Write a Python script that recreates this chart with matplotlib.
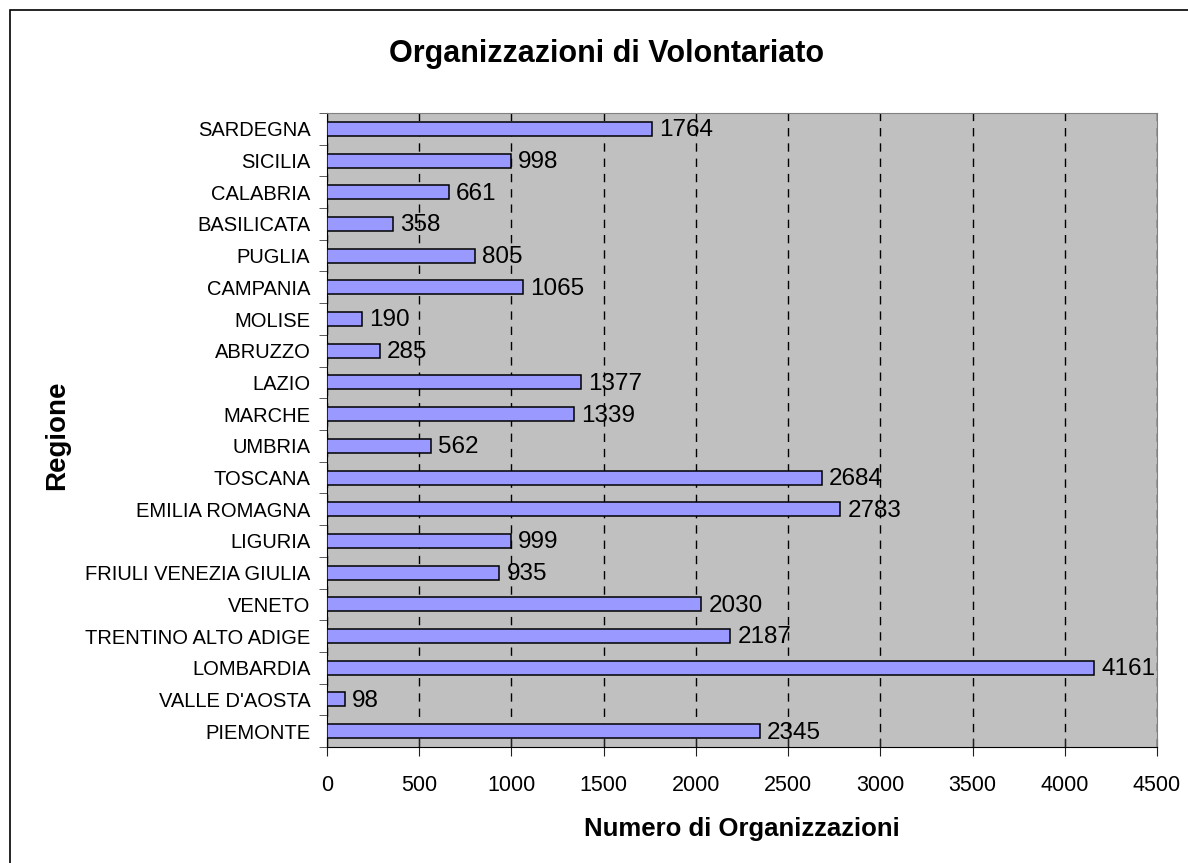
import matplotlib.pyplot as plt
import matplotlib.patches as mpatches

plt.rcParams['font.family'] = ['Liberation Sans', 'DejaVu Sans']

regioni = ['PIEMONTE', "VALLE D'AOSTA", 'LOMBARDIA', 'TRENTINO ALTO ADIGE', 'VENETO',
           'FRIULI VENEZIA GIULIA', 'LIGURIA', 'EMILIA ROMAGNA', 'TOSCANA', 'UMBRIA',
           'MARCHE', 'LAZIO', 'ABRUZZO', 'MOLISE', 'CAMPANIA', 'PUGLIA',
           'BASILICATA', 'CALABRIA', 'SICILIA', 'SARDEGNA']
organizzazioni = [2345, 98, 4161, 2187, 2030, 935, 999, 2783, 2684, 562,
                  1339, 1377, 285, 190, 1065, 805, 358, 661, 998, 1764]
x_ticks = [0, 500, 1000, 1500, 2000, 2500, 3000, 3500, 4000, 4500]

W, H = 1188, 863
fig = plt.figure(figsize=(W / 100, H / 100), dpi=100)
ax = fig.add_axes([327 / W, 1 - 747 / H, (1157 - 327) / W, (747 - 113) / H])

# cornice esterna (esce dal bordo a destra e in basso)
fig.patches.append(mpatches.Rectangle((10 / W, -0.05), 1.05, 1 - 10 / H + 0.05,
                                      transform=fig.transFigure, fill=False,
                                      edgecolor='black', linewidth=1.2))

ax.set_facecolor('#C0C0C0')
n = len(regioni)
pos = list(range(n))
ax.barh(pos, organizzazioni, height=0.44, color='#9999FF', edgecolor='black',
        linewidth=1.1, zorder=3)
for p, v in zip(pos, organizzazioni):
    ax.annotate(str(v), (v, p), xytext=(5, -1), textcoords='offset points',
                va='center', ha='left', fontsize=17.5, zorder=4)

ax.set_xlim(0, 4500)
ax.set_ylim(-0.5, n - 0.5)
ax.set_xticks(x_ticks)
ax.set_yticks(pos)
ax.set_yticklabels(regioni)
ax.set_yticks([i - 0.5 for i in range(n + 1)], minor=True)
ax.tick_params(axis='y', which='major', length=0, labelsize=14.5, pad=12)
ax.tick_params(axis='y', which='minor', length=6, direction='out', color='#404040')
ax.tick_params(axis='x', labelsize=15.5, direction='inout', length=13, pad=14,
               color='#202020')
ax.xaxis.grid(True, linestyle=(0, (6, 5)), color='black', linewidth=1, zorder=0)
ax.set_axisbelow(True)
for s in ax.spines.values():
    s.set_color('#808080')
ax.spines['left'].set_color('black')
ax.spines['bottom'].set_color('black')

fig.text((327 + 1157) / 2 / W, 1 - 836 / H, 'Numero di Organizzazioni', ha='center',
         va='baseline', fontsize=18.5, fontweight='bold')
fig.text(57 / W, 1 - 435 / H, 'Regione', ha='center', va='center', rotation=90,
         fontsize=20, fontweight='bold')
fig.text(607 / W, 1 - 62 / H, 'Organizzazioni di Volontariato', ha='center',
         va='baseline', fontsize=22, fontweight='bold')

fig.savefig('out.png', dpi=100)
